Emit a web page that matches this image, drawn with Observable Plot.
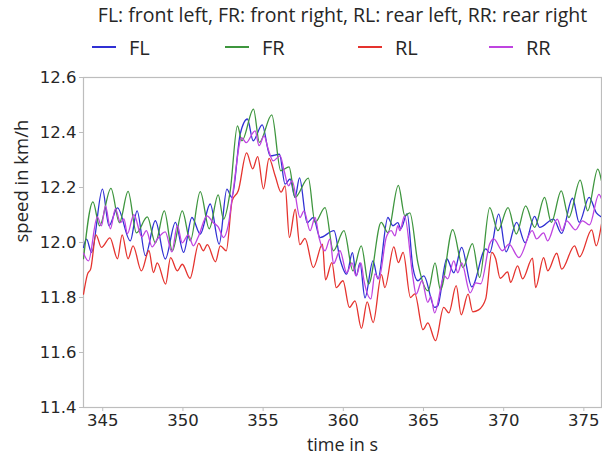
<!DOCTYPE html>
<html>
<head>
<meta charset="utf-8">
<script src="https://cdn.jsdelivr.net/npm/d3@7"></script>
<script src="https://cdn.jsdelivr.net/npm/@observablehq/plot@0.6"></script>
<style>
  html, body { margin: 0; padding: 0; background: #fff; }
  #wrap { position: relative; width: 602px; height: 457px; overflow: hidden; font-family: "Open Sans", sans-serif; color: #262626; }
  #title { position: absolute; left: 83px; width: 519px; top: 1px; text-align: center; font-size: 19.5px; white-space: nowrap; }
  .leg { position: absolute; top: 33px; height: 28px; display: flex; align-items: center; font-size: 20px; }
  .leg span.sw { display: inline-block; width: 24px; height: 1.6px; margin-right: 13px; }
  #chart { position: absolute; left: 0; top: 0; }
</style>
</head>
<body>
<div id="wrap">
  <div id="chart"></div>
  <div id="title"></div>
  <div id="legend"></div>
</div>
<script>
const seriesNames = ["FL", "FR", "RL", "RR"];
const seriesColors = ["#3030d4", "#3e963e", "#e5332e", "#bf44e0"];
const titleText = "FL: front left, FR: front right, RL: rear left, RR: rear right";
const xTicks = [345, 350, 355, 360, 365, 370, 375];
const yTicks = [11.4, 11.6, 11.8, 12.0, 12.2, 12.4, 12.6];

const flTime = [343.80,343.99,344.30,344.98,345.39,345.92,346.72,347.14,347.66,348.28,348.90,349.53,350.04,350.56,351.08,351.70,352.26,352.74,353.05,353.57,354.02,354.38,354.94,355.44,356.02,356.37,356.68,356.99,357.27,357.74,358.13,358.55,359.42,359.79,360.21,360.57,360.81,361.04,361.35,361.85,362.16,362.78,363.09,363.40,363.59,363.98,364.34,364.65,365.02,365.70,365.89,366.45,366.89,367.38,368.01,368.88,369.13,369.69,370.15,370.81,371.34,371.93,372.24,373.11,373.61,374.29,374.71,375.33,375.78,376.10];
const flSpeed = [11.982,12.012,11.964,12.194,12.061,12.126,12.006,12.115,11.952,12.079,11.940,12.073,11.964,12.091,12.031,12.140,11.994,12.194,12.164,12.394,12.449,12.370,12.428,12.315,12.321,12.212,12.231,12.164,12.235,12.072,12.091,12.018,12.043,11.941,11.885,11.963,11.879,11.926,11.799,11.933,11.868,12.091,12.061,12.072,12.050,12.105,11.909,11.861,11.879,11.764,11.770,11.941,11.890,11.982,11.839,11.977,11.963,12.103,11.966,12.073,11.999,12.095,12.055,12.085,12.033,12.161,12.073,12.164,12.108,12.093];

const frTime = [343.80,344.39,344.80,345.51,346.04,346.58,347.10,347.78,348.28,348.84,349.34,349.96,350.46,351.08,351.64,352.20,352.53,352.95,353.40,353.68,354.40,354.77,355.54,356.10,356.62,356.99,357.82,358.24,358.86,359.38,360.04,360.60,361.12,361.58,362.36,362.78,363.43,363.84,364.15,364.65,365.29,365.72,366.06,366.82,367.46,368.05,368.50,369.13,369.64,370.27,370.79,371.37,371.93,372.55,372.97,373.59,374.06,374.77,375.24,375.87,376.10];
const frSpeed = [11.941,12.148,12.061,12.197,12.072,12.186,12.035,12.093,11.999,12.115,11.970,12.115,12.006,12.185,12.050,12.173,12.085,12.188,12.424,12.370,12.485,12.364,12.464,12.261,12.275,12.164,12.234,12.073,12.127,11.970,12.043,11.897,11.988,11.849,12.073,12.036,12.208,12.097,12.108,11.926,11.824,11.926,11.828,12.047,11.909,11.996,11.873,12.127,12.043,12.127,12.031,12.133,12.055,12.164,12.073,12.188,12.091,12.227,12.115,12.267,12.224];

const rlTime = [343.80,344.05,344.25,344.58,344.92,345.45,345.92,346.21,346.58,346.89,347.41,347.88,348.16,348.40,348.92,349.23,349.65,349.96,350.44,350.99,351.27,351.52,352.03,352.33,352.70,353.07,353.45,353.97,354.35,354.66,355.02,355.37,355.75,356.12,356.37,356.64,357.00,357.29,357.61,358.13,358.70,358.89,359.29,359.56,359.98,360.38,360.73,361.13,361.49,361.86,362.38,362.59,363.15,363.43,363.73,364.19,364.46,364.97,365.27,365.75,366.26,366.58,367.04,367.35,367.78,368.07,368.44,368.88,369.26,369.50,369.78,370.25,370.43,370.87,371.18,371.80,371.99,372.49,372.75,373.31,373.62,374.42,374.73,375.49,375.77,376.10];
const rlSpeed = [11.812,11.885,11.904,12.028,11.982,12.017,11.941,12.028,11.941,11.988,11.897,11.970,11.891,11.926,11.849,11.945,11.897,11.921,11.870,11.997,11.970,11.992,11.930,11.988,11.970,12.152,12.188,12.326,12.268,12.312,12.195,12.306,12.243,12.183,12.206,12.018,12.121,11.992,12.015,11.909,11.994,11.864,11.927,11.836,11.861,11.764,11.788,11.688,11.784,11.709,11.883,11.836,11.984,11.927,11.964,11.800,11.813,11.683,11.708,11.643,11.764,11.744,11.843,11.737,11.812,11.748,11.755,11.795,11.964,11.941,11.870,11.893,11.855,11.915,11.868,11.943,11.836,11.945,11.897,11.961,11.903,11.988,11.948,12.046,11.988,12.067];

const rrTime = [343.80,344.11,344.66,344.92,345.17,345.48,345.79,346.10,346.32,346.54,346.94,347.44,347.72,348.08,348.41,348.90,349.31,349.65,349.96,350.33,350.65,350.96,351.50,351.89,352.20,352.53,352.82,353.13,353.66,353.94,354.50,354.75,355.06,355.31,355.62,356.06,356.31,356.58,356.81,357.30,357.55,357.93,358.24,358.49,358.86,359.17,359.39,359.79,360.21,360.54,360.79,361.10,361.29,361.72,361.97,362.22,362.69,362.99,363.22,363.40,363.53,363.82,364.34,364.54,364.90,365.27,365.46,365.69,366.30,366.51,366.89,367.14,367.38,367.91,368.26,368.57,369.13,369.38,369.92,370.33,370.95,371.78,372.05,372.49,372.74,373.34,373.64,373.92,374.48,374.91,375.35,375.94,376.10];
const rrSpeed = [11.961,11.933,12.093,12.061,12.133,12.050,12.123,12.072,12.086,12.032,12.101,12.021,12.043,11.984,12.013,12.039,11.966,12.061,11.999,12.028,11.988,12.021,12.097,12.072,12.057,12.018,12.061,12.188,12.381,12.363,12.406,12.352,12.388,12.341,12.297,12.315,12.261,12.206,12.224,12.091,12.115,12.043,12.091,12.017,11.970,12.013,11.923,11.970,11.890,11.926,11.879,11.926,11.861,11.795,11.886,11.868,12.021,12.043,12.024,12.061,12.043,12.097,11.873,11.812,11.861,11.782,11.803,11.744,11.879,11.868,11.933,11.890,11.926,11.817,11.853,11.850,11.995,12.013,11.970,11.994,11.945,12.043,12.013,12.035,12.006,12.085,12.043,12.079,12.046,12.079,12.064,12.175,12.159];

const times = [flTime, frTime, rlTime, rrTime];
const speeds = [flSpeed, frSpeed, rlSpeed, rrSpeed];
const rows = seriesNames.map((name, i) => times[i].map((t, j) => ({series: name, t, v: speeds[i][j]})));

const tickFont = "DejaVu Sans, sans-serif";
const labelFont = "Open Sans, sans-serif";

const chart = Plot.plot({
  width: 602,
  height: 457,
  marginLeft: 83,
  marginRight: 1,
  marginTop: 77,
  marginBottom: 50,
  style: {background: "#fff", color: "#262626"},
  x: {domain: [343.8, 376.1]},
  y: {domain: [11.4, 12.6]},
  marks: [
    Plot.frame({stroke: "#bdbdbd", strokeWidth: 1.2}),
    Plot.axisX({ticks: xTicks, tickSize: 4, tickPadding: 3, stroke: "#bdbdbd", fontSize: 16.5, fontFamily: tickFont, label: null, tickFormat: d => String(d)}),
    Plot.axisY({ticks: yTicks, tickSize: 4, tickPadding: 3, stroke: "#bdbdbd", fontSize: 16.5, fontFamily: tickFont, label: null, tickFormat: d3.format(".1f")}),
    ...rows.map((data, i) => Plot.line(data, {x: "t", y: "v", stroke: seriesColors[i], strokeWidth: 1.3, curve: "monotone-x", clip: true})),
    Plot.text(["time in s"], {frameAnchor: "bottom", dy: 43, fontSize: 18, fontFamily: labelFont, fill: "#262626"}),
    Plot.text(["speed in km/h"], {frameAnchor: "left", dx: -61, rotate: -90, fontSize: 18.5, fontFamily: labelFont, fill: "#262626"})
  ]
});
document.getElementById("chart").appendChild(chart);

document.getElementById("title").textContent = titleText;
const legendLeft = [92, 225, 358, 489];
const legend = document.getElementById("legend");
seriesNames.forEach((name, i) => {
  const item = document.createElement("div");
  item.className = "leg";
  item.style.left = legendLeft[i] + "px";
  const sw = document.createElement("span");
  sw.className = "sw";
  sw.style.background = seriesColors[i];
  item.appendChild(sw);
  item.appendChild(document.createTextNode(name));
  legend.appendChild(item);
});
</script>
</body>
</html>
